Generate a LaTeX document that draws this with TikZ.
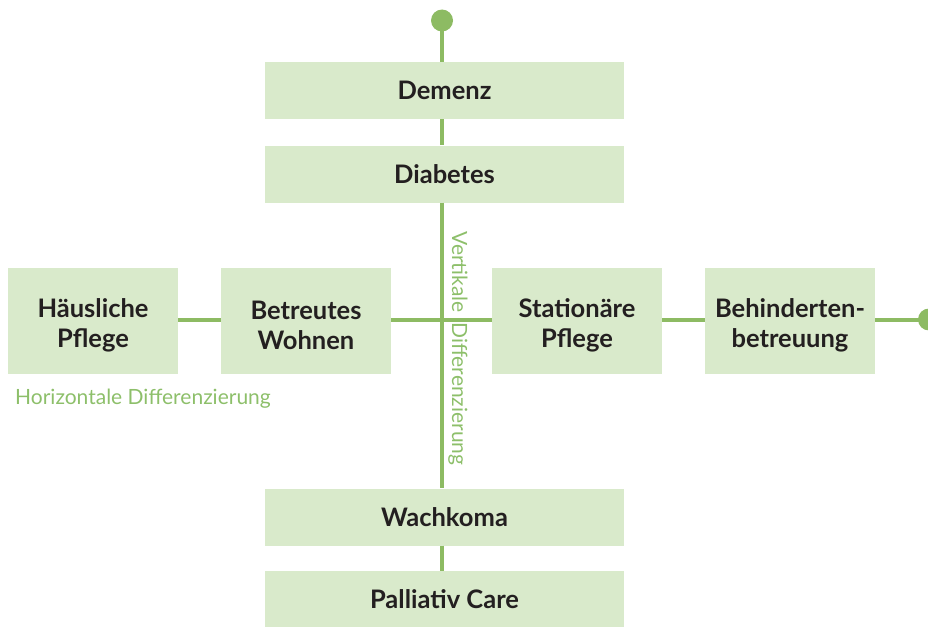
\documentclass[tikz,border=0pt]{standalone}
\usepackage{fontspec}
\setmainfont{Lato}
\definecolor{boxfill}{HTML}{D9EACB}
\definecolor{linegreen}{HTML}{8DBB63}
\definecolor{labelgreen}{HTML}{8DBF6A}
\definecolor{textdark}{HTML}{231F20}
\newcommand{\firststrut}{\rule{0pt}{27pt}}
\begin{document}
\begin{tikzpicture}[x=1pt,y=-1pt,
  boxnode/.style={fill=boxfill, draw=none, inner sep=0pt, text=textdark,
    align=center, font=\fontsize{25.5}{30}\selectfont\bfseries},
  widebox/.style={boxnode, minimum width=359pt, minimum height=57pt},
  rowbox/.style={boxnode, minimum width=170pt, minimum height=106pt},
  conn/.style={draw=linegreen, line width=4pt},
  dotnode/.style={circle, fill=linegreen, inner sep=0pt, minimum size=22pt},
  difflabel/.style={text=labelgreen, font=\fontsize{21}{24}\selectfont, inner sep=0pt}]
\useasboundingbox (0,0) rectangle (928,626);
% nodes
\node[dotnode] (topdot) at (442,20.5) {};
\node[widebox] (demenz) at (444.5,90.5) {Demenz};
\node[widebox] (diabetes) at (444.5,174) {Diabetes};
\node[rowbox] (haus) at (93,321) {\firststrut Häusliche\\Pflege};
\node[rowbox] (betr) at (306,321) {\firststrut Betreutes\\Wohnen};
\node[rowbox] (stat) at (577,321) {\firststrut Stationäre\\Pflege};
\node[rowbox] (behi) at (790,321) {\firststrut Behinderten-\\betreuung};
\node[dotnode] (rightdot) at (929,319.5) {};
\node[widebox] (wach) at (444.5,517) {Wachkoma};
\node[widebox] (pall) at (444.5,599.5) {Palliativ Care};
% connectors
\draw[conn] (topdot.center) -- (topdot.center |- demenz.north);
\draw[conn] (topdot.center |- demenz.south) -- (topdot.center |- diabetes.north);
\draw[conn] (topdot.center |- diabetes.south) -- (topdot.center |- wach.north);
\draw[conn] (topdot.center |- wach.south) -- (topdot.center |- pall.north);
\draw[conn] (haus.east |- rightdot.center) -- (betr.west |- rightdot.center);
\draw[conn] (betr.east |- rightdot.center) -- (stat.west |- rightdot.center);
\draw[conn] (stat.east |- rightdot.center) -- (behi.west |- rightdot.center);
\draw[conn] (behi.east |- rightdot.center) -- (rightdot.center);
% labels
\node[difflabel, anchor=base west] (hlabel) at (15,404) {Horizontale Differenzierung};
\node[difflabel, rotate=-90] (vlabel) at (458,348.5) {Vertikale\hspace{0.45em}Differenzierung};
\end{tikzpicture}
\end{document}
